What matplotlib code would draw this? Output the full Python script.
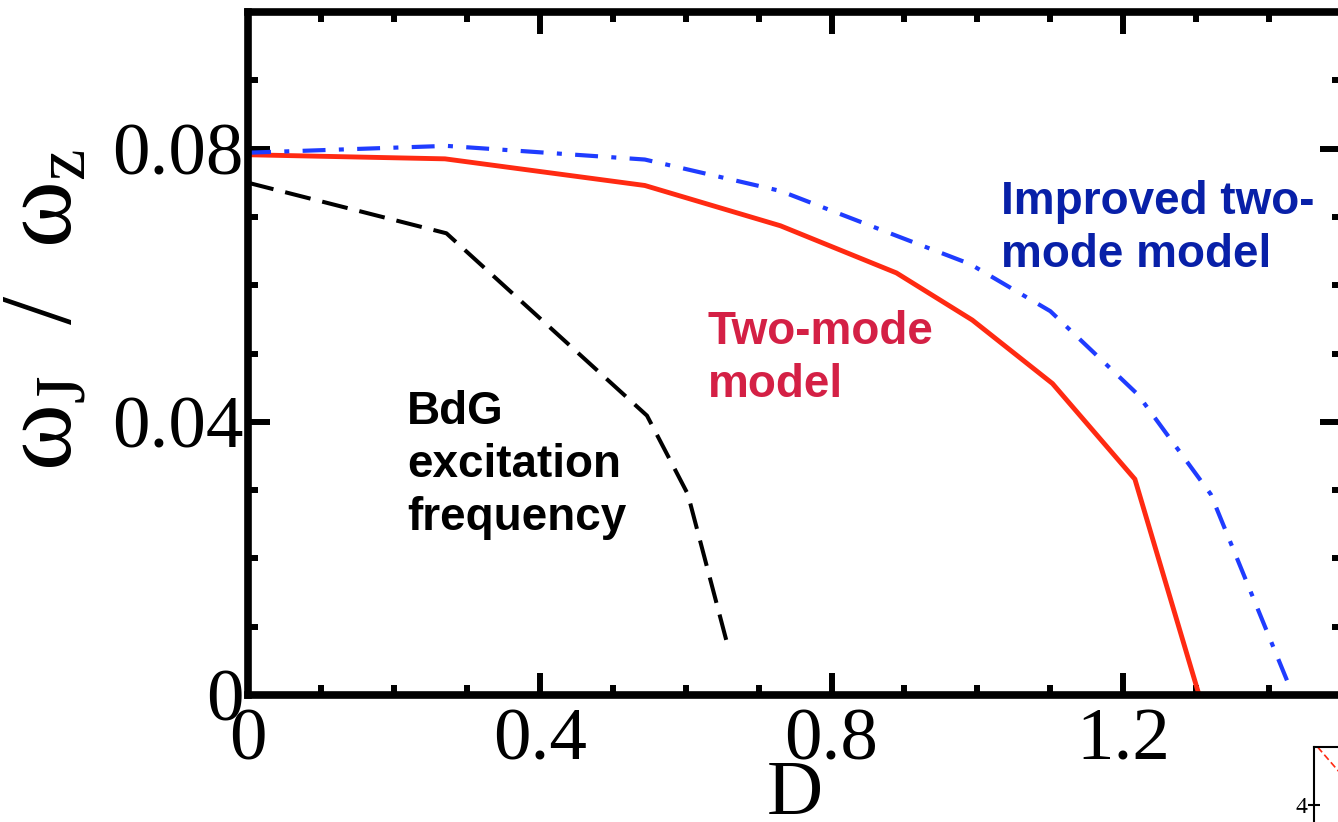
import matplotlib
matplotlib.use('Agg')
import matplotlib.pyplot as plt
from matplotlib.ticker import MultipleLocator

plt.rcParams['font.family'] = 'Liberation Serif'
plt.rcParams['mathtext.fontset'] = 'custom'
plt.rcParams['mathtext.rm'] = 'Liberation Serif'
plt.rcParams['mathtext.it'] = 'Liberation Serif:italic'

# BdG excitation frequency
d_bdg = [0.0, 0.272, 0.547, 0.603, 0.658]
w_bdg = [0.0750, 0.0676, 0.0409, 0.0294, 0.0071]

# two-mode model
d_two = [0.0, 0.270, 0.544, 0.730, 0.889, 0.993, 1.103, 1.216, 1.304]
w_two = [0.0791, 0.0785, 0.0746, 0.0687, 0.0618, 0.0549, 0.0456, 0.0316, 0.0]

# improved two-mode model
d_imp = [0.0, 0.272, 0.544, 0.730, 0.890, 0.990, 1.100, 1.220, 1.320, 1.427]
w_imp = [0.0794, 0.0804, 0.0784, 0.0738, 0.0672, 0.0631, 0.0562, 0.0440, 0.0294, 0.0015]

xticks = [0, 0.4, 0.8, 1.2]
xticklabels = ['0', '0.4', '0.8', '1.2']
yticks = [0, 0.04, 0.08]
yticklabels = ['0', '0.04', '0.08']

# neighbouring panel, only its corner shows
inset_x = [0.02, 0.25]
inset_y = [5.5, 4.2]

fig = plt.figure(figsize=(13.38, 8.22), dpi=100)
ax = fig.add_axes([0.1854, 0.1545, 0.8176, 0.8309])

ax.plot(d_bdg, w_bdg, color='black', lw=2.9, dashes=(6.5, 3.0))
ax.plot(d_two, w_two, color='#ff2a12', lw=3.5, solid_joinstyle='miter')
ax.plot(d_imp, w_imp, color='#1f3cff', lw=3.0, dashes=(5.5, 3.2, 1.2, 3.2))

ax.set_xlim(0, 1.5)
ax.set_ylim(0, 0.1)
ax.set_xticks(xticks)
ax.set_xticklabels(xticklabels)
ax.set_yticks(yticks)
ax.set_yticklabels(yticklabels)
ax.xaxis.set_minor_locator(MultipleLocator(0.1))
ax.yaxis.set_minor_locator(MultipleLocator(0.01))

for s in ax.spines.values():
    s.set_linewidth(5.5)
ax.tick_params(which='both', direction='in', top=True, right=True, width=4.3,
               labelsize=54)
ax.tick_params(which='major', length=16)
ax.tick_params(which='minor', length=7.5)
ax.tick_params(axis='y', pad=3)
ax.tick_params(axis='x', pad=9)

fig.text(795 / 1338, 1 - 795 / 822, 'D', fontsize=56,
         ha='center', va='center')
fig.text(47 / 1338, 1 - 310 / 822, r'$\mathrm{\omega_J\ \ /\ \ \omega_z}$',
         fontsize=73, rotation=90, ha='center', va='center')

# curve labels; y is the baseline of the last line
sans = ['Liberation Sans', 'DejaVu Sans']
fig.text(407 / 1338, 1 - 530 / 822, 'BdG\nexcitation\nfrequency',
         family=sans, fontsize=33, fontweight='bold', color='black',
         ha='left', va='baseline', linespacing=1.27)
fig.text(708 / 1338, 1 - 397 / 822, 'Two-mode\nmodel',
         family=sans, fontsize=33, fontweight='bold', color='#d42045',
         ha='left', va='baseline', linespacing=1.27)
fig.text(1001 / 1338, 1 - 267 / 822, 'Improved two-\nmode model',
         family=sans, fontsize=33, fontweight='bold', color='#0820a8',
         ha='left', va='baseline', linespacing=1.25)

# corner of the next panel
ax2 = fig.add_axes([1314 / 1338, -0.095, 0.14, 0.186])
ax2.plot(inset_x, inset_y, color='#ff2a12', lw=1.2, dashes=(4, 2))
ax2.set_xlim(0, 1)
ax2.set_ylim(1.5, 5.5)
ax2.set_xticks([])
ax2.set_yticks([4])
ax2.set_yticklabels(['4'])
ax2.tick_params(direction='inout', length=8, width=1.5, labelsize=17, pad=1)
for s in ax2.spines.values():
    s.set_linewidth(1.5)

fig.savefig('out.png', dpi=100)
